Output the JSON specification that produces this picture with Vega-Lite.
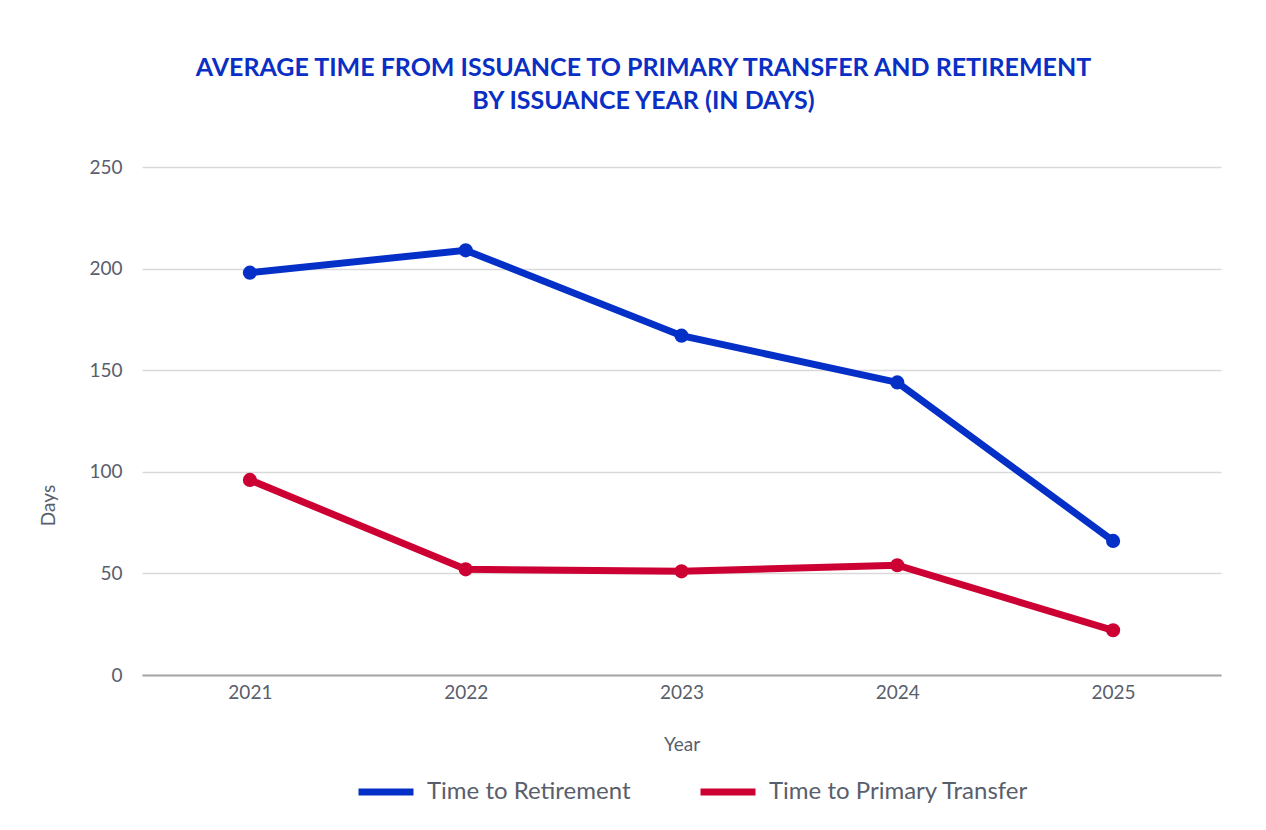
{
  "$schema": "https://vega.github.io/schema/vega-lite/v6.json",
  "width": 1079,
  "height": 508,
  "padding": {"left": 39, "right": 44, "top": 56, "bottom": 25},
  "background": "white",
  "title": {
    "text": ["AVERAGE TIME FROM ISSUANCE TO PRIMARY TRANSFER AND RETIREMENT", "BY ISSUANCE YEAR (IN DAYS)"],
    "font": "Lato",
    "fontSize": 25,
    "fontWeight": "bold",
    "color": "#0A2FC4",
    "anchor": "middle",
    "dx": -38,
    "lineHeight": 33,
    "offset": 44
  },
  "data": {
    "values": [
      {"Year": "2021", "Series": "Time to Retirement", "Days": 198},
      {"Year": "2022", "Series": "Time to Retirement", "Days": 209},
      {"Year": "2023", "Series": "Time to Retirement", "Days": 167},
      {"Year": "2024", "Series": "Time to Retirement", "Days": 144},
      {"Year": "2025", "Series": "Time to Retirement", "Days": 66},
      {"Year": "2021", "Series": "Time to Primary Transfer", "Days": 96},
      {"Year": "2022", "Series": "Time to Primary Transfer", "Days": 52},
      {"Year": "2023", "Series": "Time to Primary Transfer", "Days": 51},
      {"Year": "2024", "Series": "Time to Primary Transfer", "Days": 54},
      {"Year": "2025", "Series": "Time to Primary Transfer", "Days": 22}
    ]
  },
  "mark": {"type": "line", "strokeWidth": 7, "point": {"size": 200, "filled": true, "opacity": 1}},
  "encoding": {
    "x": {
      "field": "Year",
      "type": "ordinal",
      "scale": {"type": "point", "padding": 0.5},
      "axis": {
        "title": "Year",
        "labelAngle": 0,
        "grid": false,
        "ticks": false,
        "domain": true,
        "domainColor": "#a6a6a6",
        "domainWidth": 2,
        "labelPadding": 8,
        "labelFont": "Lato",
        "labelFontSize": 19,
        "labelColor": "#595e6c",
        "titleFont": "Lato",
        "titleFontSize": 19,
        "titleFontWeight": "normal",
        "titleColor": "#595e6c",
        "titlePadding": 33
      }
    },
    "y": {
      "field": "Days",
      "type": "quantitative",
      "scale": {"domain": [0, 250], "nice": false},
      "axis": {
        "title": "Days",
        "values": [0, 50, 100, 150, 200, 250],
        "grid": true,
        "gridColor": "#d9d9d9",
        "gridWidth": 1.5,
        "ticks": false,
        "domain": false,
        "labelPadding": 20,
        "labelFont": "Lato",
        "labelFontSize": 19,
        "labelColor": "#595e6c",
        "titleFont": "Lato",
        "titleFontSize": 19,
        "titleFontWeight": "normal",
        "titleColor": "#595e6c",
        "titlePadding": 30,
        "titleY": 338
      }
    },
    "color": {
      "field": "Series",
      "type": "nominal",
      "scale": {
        "domain": ["Time to Retirement", "Time to Primary Transfer"],
        "range": ["#0530C8", "#CC0033"]
      },
      "sort": ["Time to Retirement", "Time to Primary Transfer"],
      "legend": {
        "title": null,
        "orient": "none",
        "legendX": 213,
        "legendY": 594,
        "direction": "horizontal",
        "symbolType": "stroke",
        "symbolSize": 3025,
        "symbolStrokeWidth": 7,
        "labelFont": "Lato",
        "labelFontSize": 24,
        "labelColor": "#595e6c",
        "labelLimit": 400,
        "labelOffset": 10,
        "columnPadding": 55
      }
    }
  },
  "config": {"view": {"stroke": null}}
}
